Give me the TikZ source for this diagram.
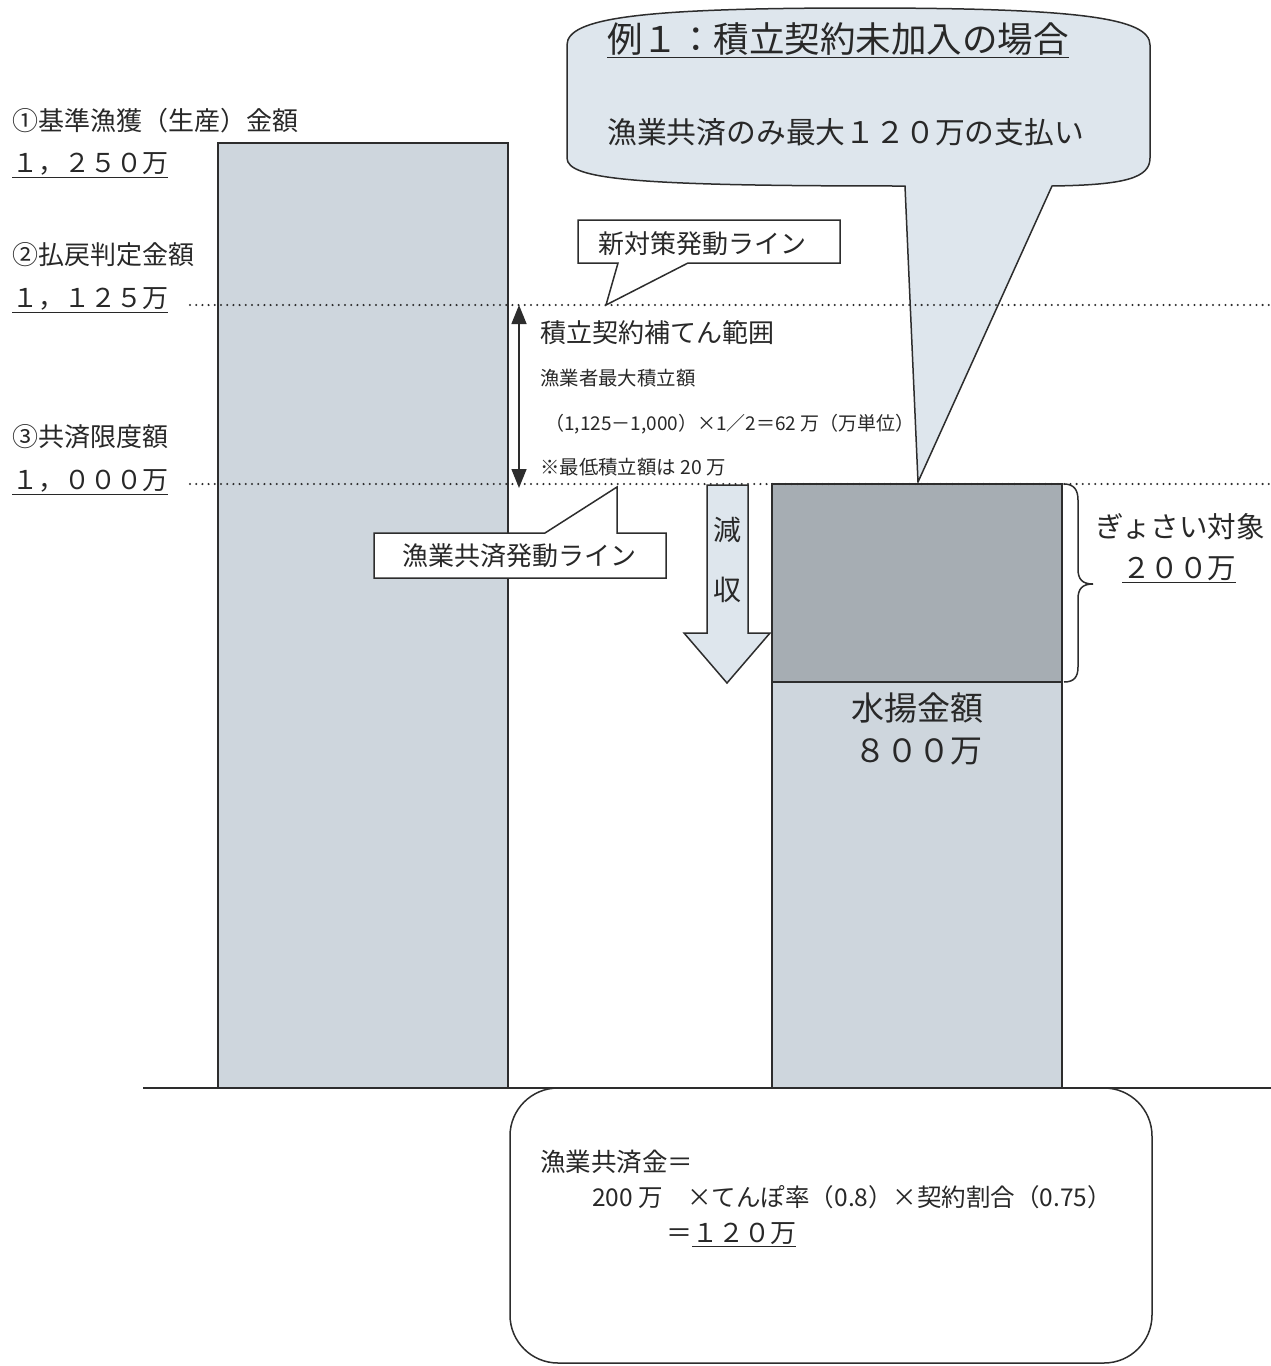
\documentclass[tikz,border=0pt]{standalone}
\usepackage{fontspec}
\setmainfont{Noto Sans CJK JP}
\usetikzlibrary{arrows.meta}
\definecolor{barlight}{RGB}{206,214,221}
\definecolor{bardark}{RGB}{166,173,179}
\definecolor{callfill}{RGB}{222,230,237}
\definecolor{linecol}{RGB}{45,45,45}
\definecolor{txtcol}{RGB}{40,40,40}
\newcommand{\fsz}[1]{\fontsize{#1}{#1}\selectfont}
\begin{document}
\begin{tikzpicture}[x=1pt,y=-1pt,
  lbl/.style={inner sep=0pt, anchor=west, text=txtcol},
  ctr/.style={inner sep=0pt, anchor=center, text=txtcol},
  shapeline/.style={draw=linecol, line width=1.5pt, line join=miter},
  dotline/.style={draw=linecol, line width=2.3pt, line cap=round, dash pattern=on 0pt off 6.2pt}]
\useasboundingbox (0,0) rectangle (1271,1366);
\fill[white] (0,0) rectangle (1271,1366);

% bars
\filldraw[shapeline, fill=barlight] (218,143) rectangle (508,1088);
\filldraw[shapeline, fill=bardark] (772,484) rectangle (1062,682);
\filldraw[shapeline, fill=barlight] (772,682) rectangle (1062,1088);

% base line
\coordinate (b1) at (143,1088);
\coordinate (b2) at (1271,1088);
\draw[linecol, line width=1.5pt] (b1) -- (b2);

% top callout
\filldraw[shapeline, fill=callfill]
  (905,186) -- (918,482) -- (1052,186)
  .. controls (1125,185) and (1150,178) .. (1150,158)
  -- (1150,45)
  .. controls (1150,18) and (1080,8) .. (860,8)
  .. controls (640,8) and (567,18) .. (567,45)
  -- (567,158)
  .. controls (567,180) and (640,186) .. (905,186) -- cycle;
\node[lbl] (title) at (607,40) {\fsz{35.5}\underline{例１：積立契約未加入の場合}};
\node[lbl] (pay) at (607,132) {\fsz{29.8}漁業共済のみ最大１２０万の支払い};

% dotted lines
\coordinate (d1a) at (190,305);
\coordinate (d1b) at (1271,305);
\coordinate (d2a) at (190,484);
\coordinate (d2b) at (1271,484);
\draw[dotline] (d1a) -- (d1b);
\draw[dotline] (d2a) -- (d2b);

% left labels
\node[lbl] (l1) at (12,121) {\fsz{26}①基準漁獲（生産）金額};
\node[lbl] (v1) at (12,165) {\fsz{26}\underline{１，２５０万}};
\node[lbl] (l2) at (12,255) {\fsz{26}②払戻判定金額};
\node[lbl] (v2) at (12,300) {\fsz{26}\underline{１，１２５万}};
\node[lbl] (l3) at (12,437) {\fsz{26}③共済限度額};
\node[lbl] (v3) at (12,482) {\fsz{26}\underline{１，０００万}};

% callout new measure line
\filldraw[shapeline, fill=white]
  (578,220) -- (840,220) -- (840,263) -- (688,263) -- (606,305) -- (618,263) -- (578,263) -- cycle;
\node[lbl] (c1) at (598,244) {\fsz{26}新対策発動ライン};

% double arrow
\coordinate (a1) at (519,305);
\coordinate (a2) at (519,488);
\draw[linecol, line width=1.5pt, {Triangle[width=15pt,length=19pt]}-{Triangle[width=15pt,length=19pt]}] (a1) -- (a2);

% middle texts
\node[lbl] (t1) at (540,333) {\fsz{26}積立契約補てん範囲};
\node[lbl] (t2) at (540,378) {\fsz{19.4}漁業者最大積立額};
\node[lbl] (t3) at (545,424) {\fsz{19}（1,125－1,000）×1／2＝62 万（万単位）};
\node[lbl] (t4) at (540,467) {\fsz{19.4}※最低積立額は 20 万};

% callout fisheries line
\filldraw[shapeline, fill=white]
  (374,533) -- (545,533) -- (617,487) -- (617,533) -- (666,533) -- (666,578) -- (374,578) -- cycle;
\node[lbl] (c2) at (402,556) {\fsz{26}漁業共済発動ライン};

% down arrow
\filldraw[shapeline, fill=callfill]
  (707,485) -- (748,485) -- (748,633) -- (770,633) -- (727,683) -- (684,633) -- (707,633) -- cycle;
\node[ctr] (g1) at (727,530) {\fsz{28}減};
\node[ctr] (g2) at (727,590) {\fsz{28}収};

% right bar texts
\node[ctr] (w1) at (917,708) {\fsz{33}水揚金額};
\node[ctr] (w2) at (918,752) {\fsz{32}８００万};

% brace
\draw[linecol, line width=1.5pt]
  (1064,484) .. controls (1074,484) and (1078,490) .. (1078,500)
  -- (1078,569) .. controls (1078,579) and (1082,584) .. (1093,584)
  .. controls (1082,584) and (1078,589) .. (1078,599)
  -- (1078,667) .. controls (1078,677) and (1074,682) .. (1064,682);
\node[lbl] (g3) at (1095,527) {\fsz{28.5}ぎょさい対象};
\node[lbl] (g4) at (1122,570) {\fsz{28.5}\underline{２００万}};

% bottom box
\filldraw[shapeline, fill=white, rounded corners=48pt] (510,1088) rectangle (1152,1363);
\node[lbl] (f1) at (540,1162) {\fsz{25.5}漁業共済金＝};
\node[lbl] (f2) at (592,1197) {\fsz{24.5}200 万　×てんぽ率（0.8）×契約割合（0.75）};
\node[lbl] (f3) at (666,1235) {\fsz{26}＝\underline{１２０万}};
\end{tikzpicture}
\end{document}
